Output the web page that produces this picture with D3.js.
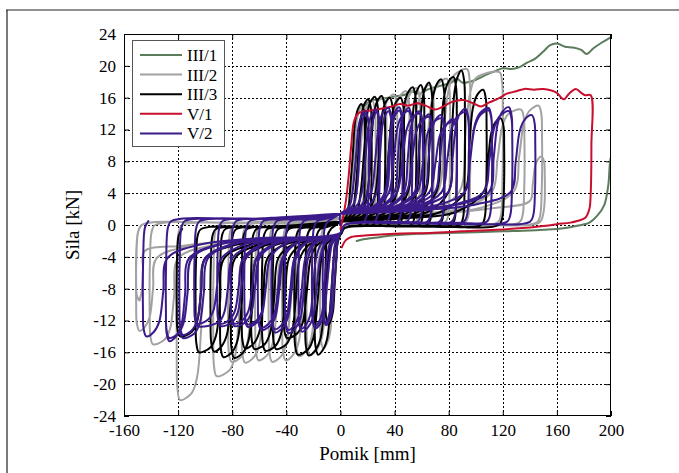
<!DOCTYPE html>
<html><head><meta charset="utf-8">
<script src="https://cdn.jsdelivr.net/npm/d3@7"></script>
<style>html,body{margin:0;padding:0;background:#fff}svg{display:block}</style>
</head><body>
<script>
// ---------- data ----------
const xTickVals = [-160,-120,-80,-40,0,40,80,120,160,200];
const yTickVals = [-24,-20,-16,-12,-8,-4,0,4,8,12,16,20,24];
const seriesNames = ["III/1","III/2","III/3","V/1","V/2"];
const seriesColors = ["#5b7b5b","#a2a2a2","#000000","#c8102e","#3b1a8a"];

// III/1 : single push to the right, then return
const iii1X = [0,3,6,9,12,15,18,22,28,35,42,48,52,58,64,70,76,82,86,90,96,102,108,114,120,126,132,138,144,150,155,160,166,172,178,182,187,193,200,204,204,200,198,195,190,184,175,165,150,140,120,100,80,57,40,30,17,12];
const iii1Y = [0,1,2.5,5,9,13,15,15.6,15.8,16.0,16.2,16.4,16.8,16.5,17.0,17.3,17.6,17.9,18.4,17.9,18.0,18.4,18.9,19.3,19.7,19.6,19.8,20.4,20.9,21.8,22.6,22.8,22.4,22.3,22.0,21.5,22.2,22.9,23.6,24,10,8.6,5,2.5,1.2,0.3,-0.1,-0.4,-0.6,-0.7,-0.8,-0.9,-1.0,-1.1,-1.3,-1.5,-1.8,-2.0];

// V/1 : single push to the right, then return
const v1X = [0,2,4,6,8,10,13,17,22,30,38,44,50,57,63,70,76,83,91,98,104,110,118,123,130,136,143,150,156,160,165,169,174,178,181,185,185.5,185,184,181,175,170,160,152,140,115,90,66,40,20,8,4,1];
const v1Y = [-0.5,1,3,6,10,13,14,14.3,14.4,14.6,14.9,15.2,15.0,15.3,15.0,14.5,14.9,15.5,15.7,15.3,14.9,15.4,16.0,16.5,16.8,17.1,17.0,17.1,16.9,16.6,15.8,16.5,17.1,16.6,16.3,16.3,10,4,2,0.9,0.5,0.3,0.1,-0.1,-0.3,-0.6,-0.8,-1.0,-1.1,-1.3,-1.5,-1.9,-2.8];

// III/2 cycles
const iii2PosAmp  = [18,25,33,41,50,58,68,80,95,119,135,148,150];
const iii2PosPeak = [15.0,15.6,16.0,16.4,16.8,17.2,17.6,18.4,19.6,19.2,14.5,15.0,8.6];
const iii2PosRise = [8,12,18,26,34,42,50,60,72,88,112,128,140];
const iii2NegAmp  = [14,24,32,42,52,62,72,82,93,120,140,150,150];
const iii2NegPeak = [-15.5,-16.3,-16.5,-17.0,-17.2,-17.0,-17.3,-17.2,-19.0,-22.0,-15.0,-13.3,-9.5];
const iii2NegRise = [4,8,16,25,34,44,54,63,72,100,120,136,145];
const iii2Bands   = [0.0,0.3,-1.2];

// III/3 cycles
const iii3PosAmp  = [17,22,27,32,38,46,55,61,67,76,85,91,107,120];
const iii3PosPeak = [15.2,15.8,16.1,16.2,16.0,16.0,17.3,17.6,17.9,18.3,18.6,19.4,17.0,13.4];
const iii3PosRise = [7,11,15,20,26,33,42,50,56,63,71,80,92,106];
const iii3NegAmp  = [10,18,25,33,41,49,57,65,72,80,88,95,106,120];
const iii3NegPeak = [-12.5,-16.3,-16.4,-16.3,-14.2,-15.6,-15.8,-15.6,-15.5,-16.7,-16.6,-15.9,-16.0,-14.0];
const iii3NegRise = [3,5,9,14,22,30,38,46,54,62,70,78,86,100];
const iii3Bands   = [-0.5,0.0,-1.2];

// V/2 cycles (two cycles per amplitude)
const v2PosAmp  = [20,20,28,28,37,37,45,45,52,52,60,60,67,67,76,76,85,85,94,94,111,111,126,126,143];
const v2PosPeak = [14.3,14.0,14.5,14.2,14.7,14.3,14.8,14.4,14.7,14.3,14.3,14.0,13.9,13.6,13.8,13.4,13.3,13.0,14.6,14.2,14.7,14.4,14.8,14.3,13.8];
const v2PosRise = [9,12,16,20,23,27,33,34,40,36,47,42,55,49,62,57,70,66,80,75,92,92,110,106,126];
const v2NegAmp  = [12,12,20,20,30,30,40,40,50,50,60,60,70,70,80,80,90,90,107,107,118,118,128,128,145];
const v2NegPeak = [-12.6,-12.3,-13.0,-12.7,-13.4,-13.0,-13.6,-13.2,-13.5,-13.1,-13.2,-12.9,-12.8,-12.5,-12.7,-12.4,-12.7,-12.4,-12.7,-12.4,-14.2,-13.8,-14.6,-14.2,-14.0];
const v2NegRise = [3,5,8,10,15,18,24,26,33,34,42,43,52,52,60,62,70,72,80,88,98,100,112,110,128];
const v2Bands   = [0.5,0.4,-1.0];

// ---------- layout ----------
const W = 679, H = 473;
const X0 = 124, X1 = 611, Y0 = 34, Y1 = 416;
const FONT = "'Liberation Serif','Times New Roman',serif";

const x = d3.scaleLinear().domain([-160,200]).range([X0,X1]);
const y = d3.scaleLinear().domain([-24,24]).range([Y1,Y0]);

const svg = d3.select("body").append("svg").attr("width",W).attr("height",H);

// outer frame
svg.append("line").attr("x1",7).attr("x2",7).attr("y1",10).attr("y2",H)
  .attr("stroke","#7a7a7a").attr("stroke-width",2);
svg.append("line").attr("x1",6).attr("x2",W).attr("y1",10).attr("y2",10)
  .attr("stroke","#222").attr("stroke-width",1);

// grid
const grid = svg.append("g");
grid.selectAll(".gx").data(xTickVals.slice(1,-1)).join("line")
  .attr("x1",d=>Math.round(x(d))+0.5).attr("x2",d=>Math.round(x(d))+0.5)
  .attr("y1",Y0).attr("y2",Y1)
  .attr("stroke","#000").attr("stroke-width",1).attr("stroke-dasharray","2,2");
grid.selectAll(".gy").data(yTickVals.slice(1,-1)).join("line")
  .attr("y1",d=>Math.round(y(d))+0.5).attr("y2",d=>Math.round(y(d))+0.5)
  .attr("x1",X0).attr("x2",X1)
  .attr("stroke","#000").attr("stroke-width",1).attr("stroke-dasharray","2,2");

// axes
const xAxis = d3.axisBottom(x).tickValues(xTickVals).tickSize(-5).tickPadding(8).tickFormat(d3.format("d"));
const yAxis = d3.axisLeft(y).tickValues(yTickVals).tickSize(-5).tickPadding(8).tickFormat(d3.format("d"));
const gx = svg.append("g").attr("transform",`translate(0,${Y1})`).call(xAxis);
const gy = svg.append("g").attr("transform",`translate(${X0},0)`).call(yAxis);
svg.append("g").attr("transform",`translate(0,${Y0})`)
  .call(d3.axisTop(x).tickValues(xTickVals).tickSize(-5).tickFormat(""));
svg.append("g").attr("transform",`translate(${X1},0)`)
  .call(d3.axisRight(y).tickValues(yTickVals).tickSize(-5).tickFormat(""));
svg.selectAll(".domain").remove();
svg.selectAll(".tick line").attr("stroke","#000");
[gx,gy].forEach(g=>g.selectAll("text").attr("font-family",FONT).attr("font-size",17).attr("fill","#000"));
gx.selectAll("text").text(d=>d<0?"-"+Math.abs(d):d);
gy.selectAll("text").text(d=>d<0?"-"+Math.abs(d):d);

// clip
svg.append("clipPath").attr("id","clip").append("rect")
  .attr("x",X0).attr("y",Y0).attr("width",X1-X0).attr("height",Y1-Y0);

// build cyclic paths from the read cycle values
function cyclePath(posAmp,posPeak,posRise,negAmp,negPeak,negRise,bands){
  const [nu,pl,nl] = bands;
  const pts = [[0,0]];
  for(let i=0;i<posAmp.length;i++){
    const A=posAmp[i],F=posPeak[i],R=posRise[i];
    const An=negAmp[i],Fn=negPeak[i],Rn=negRise[i];
    if(i>0){ pts.push([-negAmp[i-1]*0.5,nu+0.3]); }
    pts.push([0,nu+0.9],[R*0.5,nu+1.4],[R*0.8,nu+2.1],[R,Math.min(4.2,0.35*F)]);
    const w = Math.max(2.5,Math.min(12,(A-R)*0.6));
    pts.push([R+w*0.35,0.58*F],[R+w*0.65,0.86*F],[R+w,0.96*F],[A-1.5,F],
             [A+0.5,0.93*F],[A+1,0.75*F],[A+0.8,0.3*F],[A-0.5,pl+0.8],[A-3,pl],
             [A*0.5,pl-0.1],[3,pl-0.4]);
    const wn = Math.max(2.5,Math.min(10,(An-Rn)*0.6));
    pts.push([0,nl],[-Rn*0.5,nl-0.7],[-Rn*0.8,nl-1.4],[-Rn,Math.max(-4.2,0.35*Fn)],
             [-Rn-wn*0.3,0.6*Fn],[-Rn-wn*0.6,0.87*Fn],[-Rn-wn,0.96*Fn],[-An+1.5,Fn],
             [-An-0.5,0.93*Fn],[-An-1,0.75*Fn],[-An-0.8,0.3*Fn],[-An+0.5,nu-0.8],[-An+3,nu]);
  }
  return pts;
}

const seriesPts = [
  iii1X.map((v,i)=>[v,iii1Y[i]]),
  cyclePath(iii2PosAmp,iii2PosPeak,iii2PosRise,iii2NegAmp,iii2NegPeak,iii2NegRise,iii2Bands),
  cyclePath(iii3PosAmp,iii3PosPeak,iii3PosRise,iii3NegAmp,iii3NegPeak,iii3NegRise,iii3Bands),
  v1X.map((v,i)=>[v,v1Y[i]]),
  cyclePath(v2PosAmp,v2PosPeak,v2PosRise,v2NegAmp,v2NegPeak,v2NegRise,v2Bands)
];

const line = d3.line().x(d=>x(d[0])).y(d=>y(d[1])).curve(d3.curveCatmullRom.alpha(0.5));
const plot = svg.append("g").attr("clip-path","url(#clip)");
plot.selectAll("path").data(seriesPts).join("path")
  .attr("d",line).attr("fill","none")
  .attr("stroke",(d,i)=>seriesColors[i]).attr("stroke-width",2)
  .attr("stroke-linejoin","round").attr("stroke-linecap","round");

// plot box
svg.append("rect").attr("x",X0+0.5).attr("y",Y0+0.5).attr("width",X1-X0-1).attr("height",Y1-Y0-1)
  .attr("fill","none").attr("stroke","#000").attr("stroke-width",1);

// axis titles
svg.append("text").attr("x",(X0+X1)/2).attr("y",460).attr("text-anchor","middle")
  .attr("font-family",FONT).attr("font-size",19).text("Pomik [mm]");
svg.append("text").attr("transform",`translate(79,${(Y0+Y1)/2}) rotate(-90)`).attr("text-anchor","middle")
  .attr("font-family",FONT).attr("font-size",19).text("Sila [kN]");

// legend
const lg = svg.append("g");
lg.append("rect").attr("x",132.5).attr("y",40.5).attr("width",92).attr("height",106)
  .attr("fill","#fff").attr("stroke","#555").attr("stroke-width",1);
seriesNames.forEach((nm,i)=>{
  const yy = 55 + i*19.6;
  lg.append("line").attr("x1",140).attr("x2",182).attr("y1",yy).attr("y2",yy)
    .attr("stroke",seriesColors[i]).attr("stroke-width",2);
  lg.append("text").attr("x",187).attr("y",yy).attr("dy","0.35em")
    .attr("font-family",FONT).attr("font-size",17).text(nm);
});
</script>
</body></html>
